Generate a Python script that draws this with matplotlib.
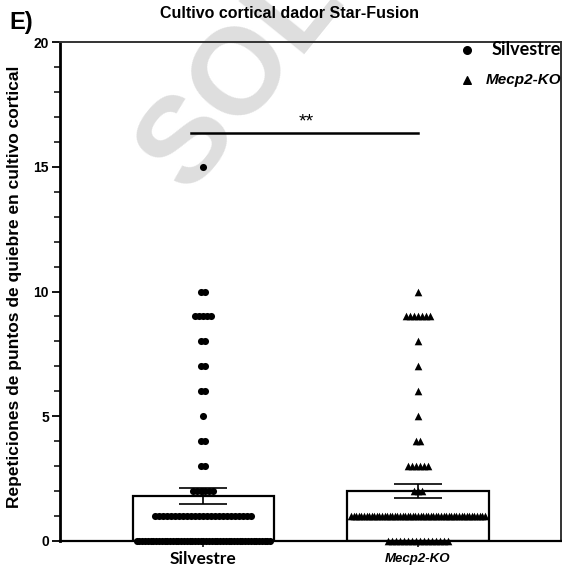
import matplotlib.pyplot as plt
import numpy as np

groups = ['Silvestre', 'Mecp2-KO']

# repeticiones observadas (valor) y cuántos puntos caen en cada valor
silvestre_vals = [0, 1, 2, 3, 4, 5, 6, 7, 8, 9, 10, 15]
silvestre_counts = [49, 25, 6, 2, 2, 1, 2, 2, 2, 5, 2, 1]

ko_vals = [0, 1, 2, 3, 4, 5, 6, 7, 8, 9, 10]
ko_counts = [16, 53, 3, 6, 2, 1, 1, 1, 1, 7, 1]

sig_label = '**'
sig_height = 16.35

fig = plt.figure(figsize=(5.62, 5.67), dpi=100)
ax = fig.add_axes([60 / 562, 26 / 567, 501 / 562, 499 / 567])
ax.patch.set_alpha(0)  # deja ver la marca de agua por debajo de los datos

FONT = ['Liberation Sans', 'DejaVu Sans']
positions = [1, 2]
bar_w = 0.66
px = 1 / 214.5  # un pixel en unidades de x


def spread(n, max_w):
    if n == 1:
        return np.zeros(1)
    step = min(4 * px, max_w / (n - 1))
    return (np.arange(n) - (n - 1) / 2) * step


datasets = [(silvestre_vals, silvestre_counts, 'o', 26),
            (ko_vals, ko_counts, '^', 30)]

for pos, (vals, counts, mk, ms) in zip(positions, datasets):
    data = np.repeat(vals, counts)
    mean = data.mean()
    sem = data.std(ddof=1) / np.sqrt(len(data))
    ax.bar(pos, mean, width=bar_w, facecolor='white', edgecolor='black',
           linewidth=1.6, zorder=2)
    for v, n in zip(vals, counts):
        xs = pos + spread(n, bar_w - 8 * px)
        ax.scatter(xs, np.full(n, v), marker=mk, s=ms, color='black',
                   linewidths=0, zorder=3, clip_on=False)
    ax.errorbar(pos, mean, yerr=sem, fmt='none', ecolor='black',
                elinewidth=1.2, capsize=17.5, capthick=1.2, zorder=4)

# línea de significancia
ax.plot([0.94, 2.0], [sig_height, sig_height], color='black', lw=1.8, zorder=3)
ax.text(1.48, sig_height + 0.12, sig_label, ha='center', va='bottom',
        fontsize=14, family=FONT, zorder=3)

ax.set_xlim(0.331, 2.667)
ax.set_ylim(0, 20)
ax.set_yticks([0, 5, 10, 15, 20])
ax.set_yticks(np.arange(0, 21, 1), minor=True)
ax.tick_params(axis='y', which='major', length=6, width=1.3, labelsize=10, pad=2)
ax.tick_params(axis='y', which='minor', length=4, width=1.1)
for lab in ax.get_yticklabels():
    lab.set_fontweight('bold')
    lab.set_family(FONT)

ax.set_xticks(positions)
ax.set_xticklabels([])
ax.tick_params(axis='x', length=4, width=1.1)
ax.text(1, -0.4, groups[0], ha='center', va='top', fontsize=12.5,
        fontweight='bold', family=['Lato', 'DejaVu Sans'])
ax.text(2, -0.5, groups[1], ha='center', va='top', fontsize=9.5,
        fontweight='bold', style='italic', family=FONT)

ax.spines['left'].set_linewidth(2.0)
ax.spines['bottom'].set_linewidth(1.6)
ax.spines['top'].set_linewidth(1.4)
ax.spines['right'].set_linewidth(1.4)
for s in ['top', 'right']:
    ax.spines[s].set_color('#333333')

ax.set_ylabel('Repeticiones de puntos de quiebre en cultivo cortical',
              fontsize=12.5, fontweight='bold', family=FONT)
ax.yaxis.set_label_coords(-0.076, 0.51)

# leyenda
ax.scatter([0.812], [0.984], marker='o', s=30, color='black',
           transform=ax.transAxes, clip_on=False)
ax.text(0.862, 0.984, 'Silvestre', transform=ax.transAxes, ha='left',
        va='center', fontsize=13, fontweight='bold',
        family=['Lato', 'DejaVu Sans'])
ax.scatter([0.812], [0.924], marker='^', s=30, color='black',
           transform=ax.transAxes, clip_on=False)
ax.text(0.850, 0.924, 'Mecp2-KO', transform=ax.transAxes, ha='left',
        va='center', fontsize=11, fontweight='bold', style='italic',
        family=FONT)

fig.text(289 / 562, 1 - 14 / 567, 'Cultivo cortical dador Star-Fusion',
         ha='center', va='center', fontsize=11.5, fontweight='bold',
         family=FONT)
fig.text(9 / 562, 1 - 22 / 567, 'E)', ha='left', va='center', fontsize=17,
         fontweight='bold', family=FONT)

# marca de agua, detrás del gráfico
fig.text(188 / 562, 1 - 194 / 567, 'SOL', rotation=51,
         rotation_mode='anchor', ha='left', va='baseline', fontsize=88,
         fontweight='bold', color='#dedede', family=FONT, zorder=-1)

fig.savefig('out.png', dpi=100)
